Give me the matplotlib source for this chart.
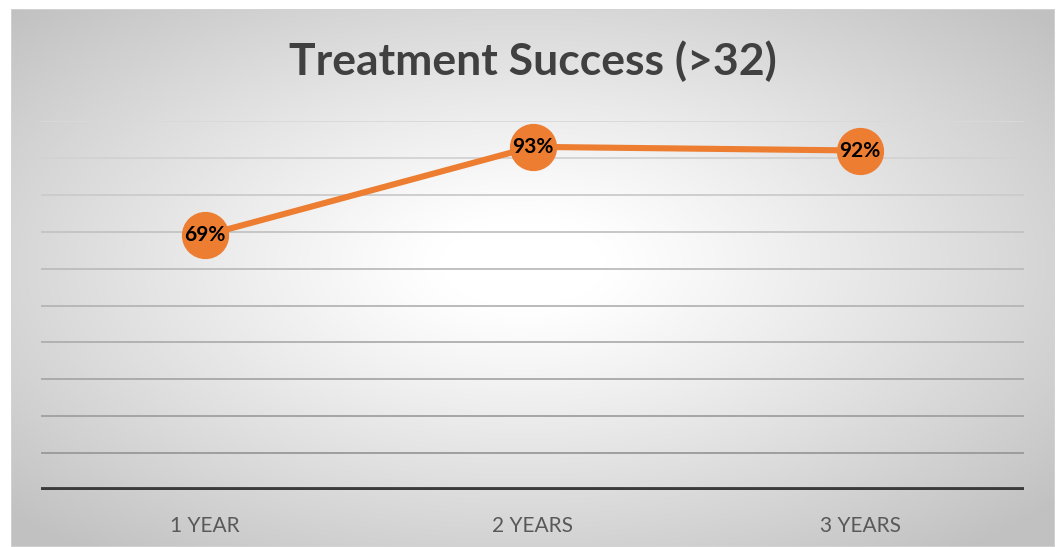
import numpy as np
import matplotlib
matplotlib.use("Agg")
import matplotlib.pyplot as plt
from matplotlib.patches import Rectangle

categories = ["1 YEAR", "2 YEARS", "3 YEARS"]
values = [69, 93, 92]
labels = ["69%", "93%", "92%"]
yticks = list(range(0, 101, 10))
title = "Treatment Success (>32)"

W, H = 1059, 547
fig = plt.figure(figsize=(W / 100, H / 100), dpi=100)
fig.patch.set_facecolor("white")

# background with radial gradient
bx0, bx1, by_top, by_bot = 11, 1055, 9, 547
bg = fig.add_axes([bx0 / W, (H - by_bot) / H, (bx1 - bx0) / W, (by_bot - by_top) / H])
nx, ny = 400, 220
xx, yy = np.meshgrid(np.linspace(-1, 1, nx), np.linspace(-1, 1, ny))
cx, cy = -0.02, -0.05
r = np.sqrt(((xx - cx) / 1.0) ** 2 + ((yy - cy) / 1.0) ** 2)
r = np.clip(r / 1.35, 0, 1)
val = 1.0 - 0.24 * np.clip((r - 0.12) / 0.88, 0, 1) ** 1.1
img = np.dstack([val, val, val])
bg.imshow(img, aspect="auto", extent=[0, 1, 0, 1], origin="upper", interpolation="bilinear")
bg.add_patch(Rectangle((0, 0), 1, 1, transform=bg.transAxes, fill=False, edgecolor="#d4d4d4", lw=1.2))
bg.set_xlim(0, 1)
bg.set_ylim(0, 1)
bg.axis("off")

# main plot axes
px0, px1, py_top, py_bot = 41, 1024, 121, 490
ax = fig.add_axes([px0 / W, (H - py_bot) / H, (px1 - px0) / W, (py_bot - py_top) / H])
ax.patch.set_alpha(0)
x = np.arange(len(categories))
ax.set_xlim(-0.5, len(categories) - 0.5)
ax.set_ylim(0, 100)

for i, t in enumerate(yticks[1:]):
    frac = i / (len(yticks) - 2)
    g = 0.60 + 0.25 * frac
    ax.axhline(t, color=(g, g, g), lw=1.3, zorder=1)
ax.axhline(0, color="#3b3b3b", lw=4.2, zorder=2)

ax.plot(x, values, color="#ED7D31", lw=4.4, zorder=3, solid_capstyle="round",
        marker="o", markersize=33, markerfacecolor="#ED7D31", markeredgecolor="#ED7D31")
for xi, v, lab in zip(x, values, labels):
    ax.text(xi, v, lab, ha="center", va="center", fontsize=15, fontweight="bold",
            family="Lato", color="black", zorder=4)

for s in ax.spines.values():
    s.set_visible(False)
ax.set_yticks([])
ax.set_xticks(x)
ax.set_xticklabels(categories, family="Lato", fontsize=15, color="#595959")
ax.tick_params(axis="x", length=0, pad=19)

fig.text(533 / W, 1 - 61 / H, title, ha="center", va="center", fontsize=32,
         fontweight="bold", family="Lato", color="#404040")

fig.savefig("out.png", dpi=100, facecolor="white")
